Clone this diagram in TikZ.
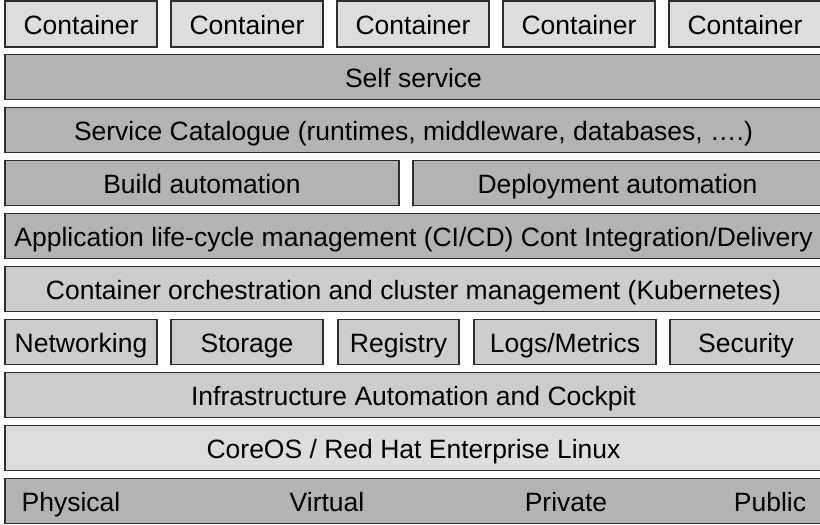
\documentclass[tikz,border=0pt]{standalone}
\usepackage{fontspec}
\setmainfont{Liberation Sans}
\definecolor{edge}{HTML}{2E2E2E}
\definecolor{lightfill}{HTML}{DDDDDD}
\definecolor{midfill}{HTML}{CCCCCC}
\definecolor{darkfill}{HTML}{B3B3B3}
\begin{document}
\begin{tikzpicture}[x=1pt,y=-1pt,
  txt/.style={font=\fontsize{26.5}{30}\selectfont,text height=20pt,text depth=0pt},
  layer/.style={txt,draw=edge,line width=1.3pt,rectangle,inner sep=0pt},
  light/.style={layer,fill=lightfill},
  mid/.style={layer,fill=midfill},
  dark/.style={layer,fill=darkfill},
  word/.style={txt,inner sep=0pt}]
\useasboundingbox (0,0) rectangle (820,525);
% row 1: containers
\foreach \i in {0,...,4}{
  \node[light,minimum width=152pt,minimum height=46pt] (c\i) at ({81+166*\i},24) {Container};
}
% full-width layers
\node[dark,minimum width=817pt,minimum height=45pt] (self) at (413.5,77) {Self service};
\node[dark,minimum width=817pt,minimum height=45pt] (cat) at (413.5,130) {Service Catalogue (runtimes, middleware, databases, ….)};
% build / deployment
\node[dark,minimum width=394pt,minimum height=45pt] (build) at (202,183) {Build automation};
\node[dark,minimum width=409pt,minimum height=45pt] (deploy) at (617.5,183) {Deployment automation};
\node[dark,minimum width=817pt,minimum height=45pt] (alm) at (413.5,236) {Application life-cycle management (CI/CD) Cont Integration/Delivery};
\node[mid,minimum width=817pt,minimum height=45pt] (orch) at (413.5,289) {Container orchestration and cluster management (Kubernetes)};
% services row
\node[mid,minimum width=152pt,minimum height=45pt] (net) at (81,342) {Networking};
\node[mid,minimum width=152pt,minimum height=45pt] (sto) at (247,342) {Storage};
\node[mid,minimum width=121pt,minimum height=45pt] (reg) at (398.5,342) {Registry};
\node[mid,minimum width=182pt,minimum height=45pt] (logs) at (565,342) {Logs/Metrics};
\node[mid,minimum width=152pt,minimum height=45pt] (sec) at (746,342) {Security};
\node[mid,minimum width=817pt,minimum height=45pt] (infra) at (413.5,395) {Infrastructure Automation and Cockpit};
\node[light,minimum width=817pt,minimum height=45pt] (os) at (413.5,448) {CoreOS / Red Hat Enterprise Linux};
\node[dark,minimum width=817pt,minimum height=45pt] (hw) at (413.5,501) {};
\node[word] (phys) at (71,501) {Physical};
\node[word] (virt) at (327,501) {Virtual};
\node[word] (priv) at (566,501) {Private};
\node[word] (pub) at (770,501) {Public};
\end{tikzpicture}
\end{document}
